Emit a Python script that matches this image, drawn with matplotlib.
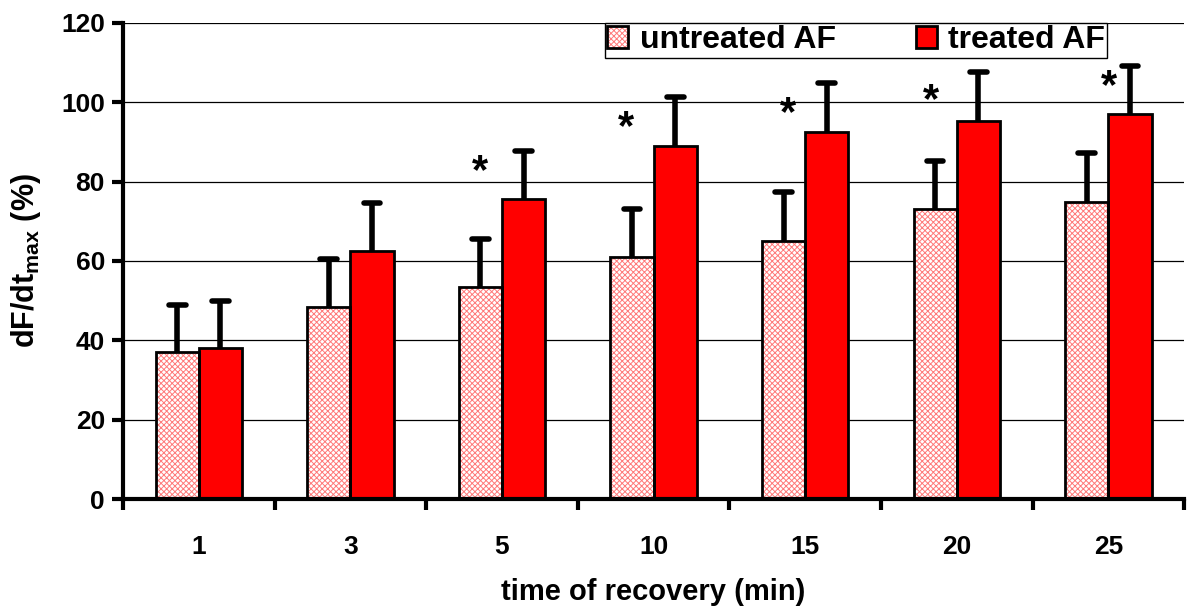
import numpy as np
import matplotlib
matplotlib.use('Agg')
import matplotlib.pyplot as plt
from matplotlib.legend_handler import HandlerTuple

plt.rcParams['font.family'] = ['Liberation Sans', 'DejaVu Sans']
plt.rcParams['font.weight'] = 'bold'
plt.rcParams['mathtext.fontset'] = 'custom'
plt.rcParams['mathtext.rm'] = 'Liberation Sans:bold'
plt.rcParams['mathtext.bf'] = 'Liberation Sans:bold'
plt.rcParams['hatch.linewidth'] = 0.7

# 恢复时间点 (min)
times = ['1', '3', '5', '10', '15', '20', '25']
# 未处理组 / 处理组 均值与误差
untreated = [37.0, 48.5, 53.4, 61.0, 65.1, 73.2, 74.8]
untreated_err = [12.0, 12.0, 12.2, 12.2, 12.2, 12.0, 12.3]
treated = [38.0, 62.6, 75.7, 89.0, 92.5, 95.3, 97.0]
treated_err = [12.0, 12.1, 12.1, 12.2, 12.2, 12.2, 12.2]
# 显著性标记 (None 表示不显著) 的高度和水平偏移
star_y = [None, None, 83.8, 95.0, 98.4, 101.8, 105.2]
star_dx = [0, 0, 0, -0.04, 0.03, -0.03, 0.15]

x = np.arange(len(times))
w = 0.285
pink = '#ff7a7a'

fig = plt.figure(figsize=(11.87, 6.08), dpi=100)
ax = fig.add_axes([0.1036, 0.179, 0.894, 0.7837])

ax.set_axisbelow(True)
ax.yaxis.grid(True, color='black', linewidth=0.9)

# 网纹柱: 先画粉色网纹，再叠黑色边框
hb = ax.bar(x - w / 2, untreated, w, color='white', edgecolor=pink, linewidth=0,
            hatch='xxxxxx', zorder=2)
ob = ax.bar(x - w / 2, untreated, w, fill=False, edgecolor='black', linewidth=2,
            zorder=2.1)
tb = ax.bar(x + w / 2, treated, w, color='#ff0000', edgecolor='black', linewidth=2,
            zorder=2)

# 只画向上的误差线
cw = 0.055
for xs, m, e in [(x - w / 2, untreated, untreated_err), (x + w / 2, treated, treated_err)]:
    top = np.array(m) + np.array(e)
    ax.vlines(xs, m, top, colors='black', linewidth=4, zorder=1)
    caps = ax.hlines(top, xs - cw, xs + cw, colors='black', linewidth=4, zorder=1)
    caps.set_capstyle('round')

for i, sy in enumerate(star_y):
    if sy is not None:
        # '*' 字形偏上，往下挪一点
        ax.text(x[i] - w / 2 + star_dx[i], sy - 1.5, '*', ha='center', va='center',
                fontsize=30, fontweight='bold')

ax.set_xlim(-0.5, len(times) - 0.5)
ax.set_ylim(0, 120)
ax.set_yticks(np.arange(0, 121, 20))

# 类别边界上的刻度，标签放在类别中心
ax.set_xticks(np.arange(-0.5, len(times), 1.0))
ax.set_xticklabels([])
ax.set_xticks(x, minor=True)
ax.set_xticklabels(times, minor=True)
ax.tick_params(axis='x', which='major', length=8, width=3, direction='out')
ax.tick_params(axis='x', which='minor', length=0, pad=26, labelsize=19)
ax.tick_params(axis='y', length=8, width=3, direction='out', pad=5, labelsize=19)

for side in ['top', 'right']:
    ax.spines[side].set_visible(False)
for side in ['left', 'bottom']:
    ax.spines[side].set_linewidth(3)

ax.set_xlabel('time of recovery (min)', fontsize=21, fontweight='bold')
ax.xaxis.set_label_coords(0.5, -0.195)
ax.xaxis.label.set_va('center')
ax.set_ylabel(r'dF/dt$_\mathrm{max}$ (%)', fontsize=22, fontweight='bold')
ax.yaxis.set_label_coords(-0.091, 0.5)
ax.yaxis.label.set_va('center')

leg = ax.legend([(hb[0], ob[0]), tb[0]], ['untreated AF', 'treated AF'],
                handler_map={tuple: HandlerTuple(ndivide=1)},
                loc='upper right', bbox_to_anchor=(0.9275, 1.0), ncol=2,
                fontsize=23, frameon=True, fancybox=False, borderaxespad=0,
                handlelength=0.66, handleheight=0.66, handletextpad=0.35,
                columnspacing=2.5, borderpad=0.08)
leg.get_frame().set_edgecolor('black')
leg.get_frame().set_linewidth(1)
leg.get_frame().set_alpha(1)

fig.savefig('out.png', dpi=100)
